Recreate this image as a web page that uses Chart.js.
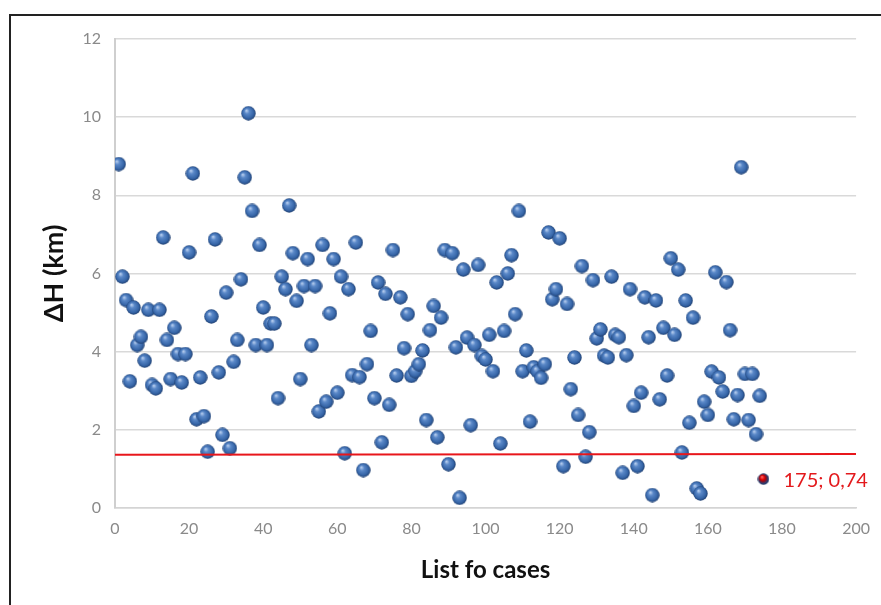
<!DOCTYPE html>
<html>
<head>
<meta charset="utf-8">
<script src="https://cdn.jsdelivr.net/npm/chart.js@4"></script>
<style>
  html, body { margin: 0; padding: 0; background: #fff; }
  #wrap { position: relative; width: 881px; height: 605px; overflow: hidden; background: #fff; }
  #frame { position: absolute; left: 9px; top: 14px; width: 900px; height: 620px; border: 2px solid #222; box-sizing: border-box; pointer-events: none; }
  #c { position: absolute; left: 0; top: 0; }
</style>
</head>
<body>
<div id="wrap">
  <canvas id="c" width="881" height="605"></canvas>
  <div id="frame"></div>
</div>
<script>
// ---- data ----
const caseNo = [
  1,2,3,4,5,6,7,8,9,10,11,12,13,14,15,16,17,18,19,20,
  21,22,23,24,25,26,27,28,29,30,31,32,33,34,35,36,37,38,39,40,
  41,42,43,44,45,46,47,48,49,50,51,52,53,54,55,56,57,58,59,60,
  61,62,63,64,65,66,67,68,69,70,71,72,73,74,75,76,77,78,79,80,
  81,82,83,84,85,86,87,88,89,90,91,92,93,94,95,96,97,98,99,100,
  101,102,103,104,105,106,107,108,109,110,111,112,113,114,115,116,117,118,119,120,
  121,122,123,124,125,126,127,128,129,130,131,132,133,134,135,136,137,138,139,140,
  141,142,143,144,145,146,147,148,149,150,151,152,153,154,155,156,157,158,159,160,
  161,162,163,164,165,166,167,168,169,170,171,172,173,174
];
const deltaH = [
  8.80,5.92,5.32,3.24,5.13,4.17,4.38,3.77,5.07,3.15,3.06,5.07,6.92,4.30,3.30,4.61,3.94,3.21,3.94,6.54,
  8.56,2.27,3.34,2.35,1.44,4.90,6.87,3.47,1.87,5.51,1.53,3.74,4.30,5.85,8.46,10.10,7.60,4.17,6.73,5.13,
  4.17,4.72,4.72,2.81,5.92,5.60,7.74,6.52,5.30,3.30,5.68,6.37,4.17,5.68,2.47,6.73,2.72,4.98,6.37,2.95,
  5.92,1.40,5.60,3.40,6.79,3.35,0.97,3.68,4.53,2.81,5.77,1.68,5.48,2.64,6.60,3.39,5.39,4.09,4.96,3.38,
  3.50,3.68,4.03,2.25,4.55,5.17,1.81,4.87,6.60,1.12,6.52,4.11,0.26,6.10,4.36,2.12,4.17,6.22,3.89,3.80,
  4.43,3.50,5.77,1.65,4.53,6.00,6.47,4.96,7.60,3.50,4.03,2.21,3.60,3.50,3.33,3.68,7.05,5.34,5.60,6.90,
  1.07,5.22,3.04,3.85,2.38,6.19,1.31,1.94,5.83,4.34,4.57,3.90,3.85,5.92,4.43,4.37,0.90,3.91,5.60,2.61,
  1.07,2.95,5.39,4.37,0.33,5.31,2.78,4.61,3.39,6.39,4.43,6.10,1.42,5.31,2.18,4.87,0.50,0.37,2.72,2.38,
  3.49,6.03,3.34,2.98,5.78,4.55,2.27,2.89,8.72,3.43,2.25,3.43,1.89,2.87
];
const markedCase = [175];
const markedDeltaH = [0.74];
const markedLabel = ["175; 0,74"];
const limitX = [0, 200];
const limitY = [1.36, 1.38];
const xRange = [0, 200];
const xStep = 20;
const yRange = [0, 12];
const yStep = 2;
const xTitle = "List fo cases";
const yTitle = "ΔH (km)";

// ---- sphere markers ----
function sphere(d, stops) {
  const c = document.createElement('canvas');
  c.width = d; c.height = d;
  const g = c.getContext('2d');
  const r = d / 2;
  const grad = g.createRadialGradient(r * 0.72, r * 0.62, r * 0.05, r, r, r);
  stops.forEach(s => grad.addColorStop(s[0], s[1]));
  g.fillStyle = grad;
  g.beginPath();
  g.arc(r, r, r - 0.3, 0, Math.PI * 2);
  g.fill();
  return c;
}
const blueBall = sphere(15, [[0, '#b6cdee'], [0.3, '#5a88c8'], [0.75, '#3564a6'], [1, '#1d3b6a']]);
const redBall = sphere(12, [[0, '#ff6a6a'], [0.35, '#e00000'], [0.55, '#8a1020'], [0.8, '#2c3f74'], [1, '#1a2a55']]);

const pts = caseNo.map((x, i) => ({ x: x, y: deltaH[i] }));
const marked = markedCase.map((x, i) => ({ x: x, y: markedDeltaH[i] }));
const limitLine = limitX.map((x, i) => ({ x: x, y: limitY[i] }));

const labelPlugin = {
  id: 'markLabel',
  afterDatasetsDraw(chart) {
    const meta = chart.getDatasetMeta(2);
    const ctx = chart.ctx;
    ctx.save();
    ctx.font = '20px Lato, "Open Sans", sans-serif';
    ctx.fillStyle = '#e3191c';
    ctx.textAlign = 'left';
    ctx.textBaseline = 'middle';
    meta.data.forEach((el, i) => {
      ctx.fillText(markedLabel[i], el.x + 20, el.y + 1);
    });
    ctx.restore();
  }
};

new Chart(document.getElementById('c'), {
  type: 'scatter',
  data: {
    datasets: [
      {
        type: 'line',
        data: limitLine,
        borderColor: '#e8161b',
        borderWidth: 2,
        pointRadius: 0,
        fill: false,
        tension: 0
      },
      {
        data: pts,
        pointStyle: blueBall,
        pointRadius: 7.5,
        pointHoverRadius: 7.5
      },
      {
        data: marked,
        pointStyle: redBall,
        pointRadius: 6,
        pointHoverRadius: 6
      }
    ]
  },
  options: {
    responsive: false,
    animation: false,
    devicePixelRatio: 1,
    layout: { padding: { left: 0, top: 39, right: 20, bottom: 0 } },
    plugins: { legend: { display: false }, tooltip: { enabled: false } },
    scales: {
      x: {
        type: 'linear',
        min: xRange[0], max: xRange[1],
        afterFit(s) { s.height = 97; },
        ticks: { stepSize: xStep, padding: 11, color: '#8a8a8a', font: { family: 'Lato, "Open Sans", sans-serif', size: 16 } },
        grid: { display: false, drawTicks: false },
        border: { display: true, color: '#d4d4d4', width: 1.5 },
        title: { display: true, text: xTitle, color: '#111', padding: { top: 0, bottom: 20 }, font: { family: 'Lato, "Open Sans", sans-serif', size: 24, weight: 'bold' } }
      },
      y: {
        type: 'linear',
        min: yRange[0], max: yRange[1],
        afterFit(s) { s.width = 115; },
        ticks: { stepSize: yStep, padding: 14, color: '#8a8a8a', font: { family: 'Lato, "Open Sans", sans-serif', size: 16 } },
        grid: { color: '#d9d9d9', lineWidth: 1.5, drawTicks: false },
        border: { display: true, color: '#cfcfcf', width: 2 },
        title: { display: true, text: yTitle, color: '#111', padding: { top: 38, bottom: 0 }, font: { family: 'Lato, "Open Sans", sans-serif', size: 27, weight: 'bold' } }
      }
    }
  },
  plugins: [labelPlugin]
});
</script>
</body>
</html>
